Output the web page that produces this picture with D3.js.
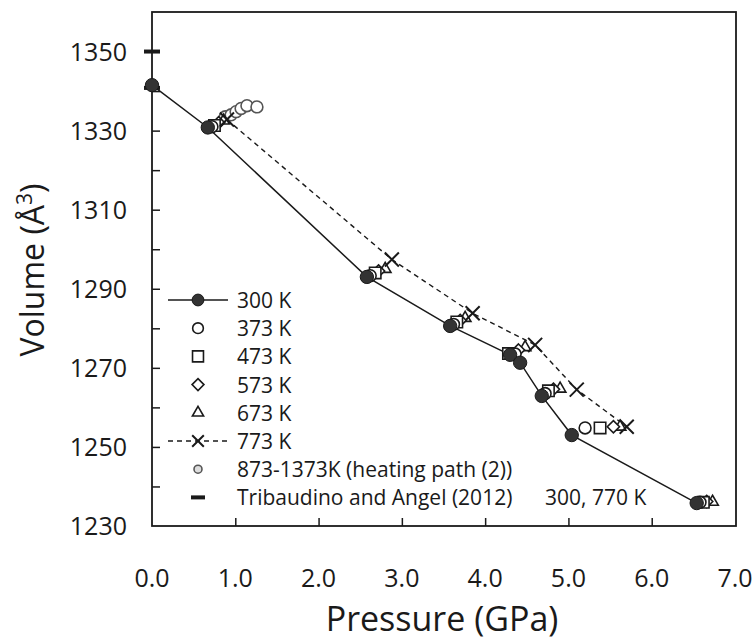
<!DOCTYPE html>
<html>
<head>
<meta charset="utf-8">
<script src="https://cdn.jsdelivr.net/npm/d3@7"></script>
<style>
  body { margin: 0; background: white; }
  text { font-family: "Open Sans", sans-serif; fill: #1a1a1a; }
</style>
</head>
<body>
<svg id="chart_svg" width="755" height="643"></svg>
<script>
/* values */
var P300 = [0.0, 0.67, 2.58, 3.58, 4.30, 4.42, 4.68, 5.04, 6.54];
var V300 = [1341.5, 1330.8, 1293.0, 1280.6, 1273.3, 1271.3, 1262.9, 1253.0, 1235.8];
var P373 = [0.72, 2.62, 3.62, 4.36, 4.72, 5.20, 6.58];
var V373 = [1331.0, 1293.3, 1281.0, 1273.5, 1263.5, 1254.8, 1236.0];
var P473 = [0.75, 2.68, 3.66, 4.28, 4.76, 5.38, 6.62];
var V473 = [1331.3, 1294.0, 1281.6, 1273.6, 1264.2, 1254.8, 1236.0];
var P573 = [0.80, 2.72, 3.70, 4.40, 4.82, 5.54, 6.66];
var V573 = [1332.0, 1294.5, 1282.0, 1274.5, 1264.6, 1255.1, 1236.2];
var P673 = [0.86, 2.80, 3.76, 4.48, 4.90, 5.62, 6.73];
var V673 = [1332.5, 1295.0, 1282.6, 1275.2, 1264.7, 1255.1, 1236.1];
var P773 = [0.90, 2.88, 3.85, 4.60, 5.10, 5.70];
var V773 = [1332.8, 1297.4, 1283.8, 1275.8, 1264.5, 1255.1];
var Pheat = [0.88, 0.95, 1.01, 1.07, 1.14, 1.26];
var Vheat = [1333.5, 1334.0, 1334.8, 1335.6, 1336.3, 1336.0];
var Ptri = [0.0, 0.0];
var Vtri = [1350, 1340.8];

var xTicks = [0, 1, 2, 3, 4, 5, 6, 7];
var yTicks = [1230, 1250, 1270, 1290, 1310, 1330, 1350];
var legendLabels = ['300 K', '373 K', '473 K', '573 K', '673 K', '773 K',
  '873-1373K (heating path (2))', 'Tribaudino and Angel (2012)'];
var legendNote = '300, 770 K';

function pts(P, V){ return P.map((p, i) => { return { p: p, v: V[i] }; }); }

var svg = d3.select('#chart_svg');
var plot = { left: 152, right: 736, top: 12, bottom: 526 };

var x = d3.scaleLinear().domain([0, 7]).range([plot.left, plot.right - 1]);
var y = d3.scaleLinear().domain([1230, 1360]).range([plot.bottom, plot.top]);
var line = d3.line().x(d => { return x(d.p) }).y(d => { return y(d.v) });

/* frame */
svg.append('rect')
  .attr('x', plot.left).attr('y', plot.top)
  .attr('width', plot.right - plot.left).attr('height', plot.bottom - plot.top)
  .style('fill', 'none').style('stroke', '#1a1a1a').style('stroke-width', 1.8);

/* axes, ticks pointing inwards */
var xAxis = svg.append('g').attr('transform', 'translate(0,' + plot.bottom + ')')
  .call(d3.axisBottom(x).tickValues(xTicks.slice(1, 7)).tickSizeInner(-8).tickSizeOuter(0).tickFormat(''));
var yAxis = svg.append('g').attr('transform', 'translate(' + plot.left + ',0)')
  .call(d3.axisLeft(y).tickValues(d3.range(1240, 1360, 10)).tickSizeInner(-8).tickSizeOuter(0).tickFormat(''));
[xAxis, yAxis].forEach(g => {
  g.select('.domain').remove();
  g.selectAll('line').style('stroke', '#1a1a1a').style('stroke-width', 1.5);
});

svg.append('g').selectAll('text').data(xTicks).join('text')
  .attr('x', d => x(d)).attr('y', 587)
  .style('text-anchor', 'middle').style('font-size', '25px')
  .text(d => d3.format('.1f')(d));
svg.append('g').selectAll('text').data(yTicks).join('text')
  .attr('x', 127).attr('y', d => y(d) + 9)
  .style('text-anchor', 'end').style('font-size', '25px')
  .text(d => d);

/* axis titles */
svg.append('text').attr('x', 442).attr('y', 631)
  .style('text-anchor', 'middle').style('font-size', '34px').text('Pressure (GPa)');
var yt = svg.append('text').attr('transform', 'translate(44,270) rotate(-90)')
  .style('text-anchor', 'middle').style('font-size', '32px');
yt.append('tspan').text('Volume (Å');
yt.append('tspan').attr('dy', -12).style('font-size', '21px').text('3');
yt.append('tspan').attr('dy', 12).text(')');

/* marker drawing */
var sym = {
  circle: d3.symbol().type(d3.symbolCircle).size(110),
  filled: d3.symbol().type(d3.symbolCircle).size(140),
  square: d3.symbol().type(d3.symbolSquare).size(130),
  diamond: d3.symbol().type(d3.symbolDiamond2).size(95),
  triangle: d3.symbol().type(d3.symbolTriangle2).size(95),
  cross: d3.symbol().type(d3.symbolX).size(130)
};
function markers(data, shape, style){
  var g = svg.append('g');
  g.selectAll('path').data(data).join('path')
    .attr('transform', d => 'translate(' + x(d.p) + ',' + y(d.v) + ')')
    .attr('d', sym[shape])
    .style('fill', style.fill).style('stroke', style.stroke).style('stroke-width', style.sw);
  return g;
}
var openStyle = { fill: 'white', stroke: '#1a1a1a', sw: 1.6 };

/* 773 K dashed path */
svg.append('path').attr('d', line(pts(P773, V773)))
  .style('fill', 'none').style('stroke', '#1a1a1a').style('stroke-width', 1.4).style('stroke-dasharray', '5,4');
/* 300 K solid path */
svg.append('path').attr('d', line(pts(P300, V300)))
  .style('fill', 'none').style('stroke', '#1a1a1a').style('stroke-width', 1.5);

/* Tribaudino and Angel bars */
svg.append('g').selectAll('rect').data(pts(Ptri, Vtri)).join('rect')
  .attr('x', d => x(d.p) - 8).attr('y', d => y(d.v) - 2).attr('width', 16).attr('height', 4)
  .style('fill', '#1a1a1a');

markers(pts(Pheat, Vheat), 'circle', { fill: 'white', stroke: '#555', sw: 1.6 });
markers(pts(P673, V673), 'triangle', openStyle);
markers(pts(P573, V573), 'diamond', openStyle);
markers(pts(P473, V473), 'square', openStyle);
markers(pts(P373, V373), 'circle', openStyle);
markers(pts(P773, V773), 'cross', { fill: 'none', stroke: '#1a1a1a', sw: 2 });
markers(pts(P300, V300), 'filled', { fill: '#333', stroke: '#1a1a1a', sw: 1 });

/* Legend */
var legend = svg.append('g').attr('transform', 'translate(198,300)');
var legendShapes = ['circle', 'circle', 'square', 'diamond', 'triangle', 'cross', 'circle', 'bar'];
legendLabels.forEach((label, i) => {
  var row = legend.append('g').attr('transform', 'translate(0,' + (i * 28.2) + ')');
  if (i == 0 || i == 5) {
    row.append('line').attr('x1', -30).attr('x2', 30)
      .style('stroke', '#1a1a1a').style('stroke-width', 1.4)
      .style('stroke-dasharray', i == 5 ? '5,4' : null);
  }
  if (legendShapes[i] == 'bar') {
    row.append('rect').attr('x', -7).attr('y', -2).attr('width', 14).attr('height', 4).style('fill', '#1a1a1a');
  } else {
    var st = i == 0 ? { fill: '#333', stroke: '#1a1a1a', sw: 1 }
      : i == 6 ? { fill: '#ddd', stroke: '#555', sw: 1.6 }
      : i == 5 ? { fill: 'none', stroke: '#1a1a1a', sw: 2 } : openStyle;
    var size = i == 6 ? 50 : i == 0 ? 110 : (legendShapes[i] == 'square' ? 120 : 90);
    row.append('path').attr('d', d3.symbol().type({
        circle: d3.symbolCircle, square: d3.symbolSquare, diamond: d3.symbolDiamond2,
        triangle: d3.symbolTriangle2, cross: d3.symbolX }[legendShapes[i]]).size(size))
      .style('fill', st.fill).style('stroke', st.stroke).style('stroke-width', st.sw);
  }
  row.append('text').attr('x', 39).attr('y', 8).style('font-size', '21px').text(label);
});
legend.append('text').attr('x', 347).attr('y', 7 * 28.2 + 8).style('font-size', '21px').text(legendNote);
</script>
</body>
</html>
